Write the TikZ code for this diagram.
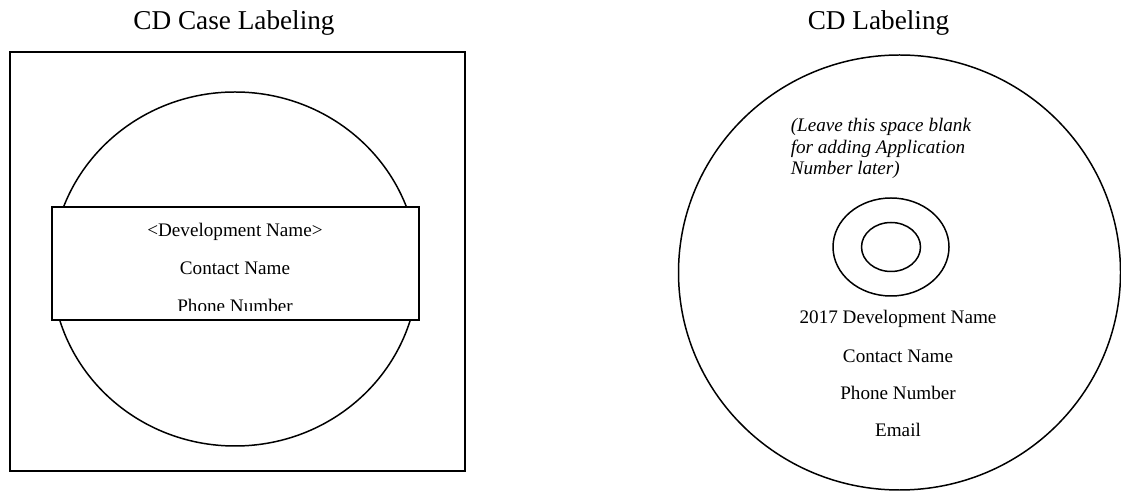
\documentclass[tikz,border=0pt]{standalone}
\usepackage{fontspec}
\setmainfont{Liberation Serif}
\usetikzlibrary{positioning}

\begin{document}
\begin{tikzpicture}[x=0.02cm, y=-0.02cm, line width=0.85pt,
    title/.style={anchor=base, inner sep=0pt, font=\fontsize{15.5}{18}\selectfont},
    info/.style={anchor=base, inner sep=0pt, font=\fontsize{10.9}{13}\selectfont},
    note/.style={anchor=base west, inner sep=0pt, font=\fontsize{10.9}{13}\selectfont\itshape}]
    \useasboundingbox (0,0) rectangle (1121,492);

    % case
    \coordinate (CC) at (235,269);
    \node[title] (casetitle) at (234,30) {CD Case Labeling};
    \draw (10,52) rectangle (465,471);
    \draw (CC) ellipse [x radius=183, y radius=177];
    \draw[fill=white] (52,207) rectangle (419,320);

    \node[info] (casename) at (235,236.7) {<Development Name>};
    \node[info] (casecontact) at (235,275) {Contact Name};
    \begin{scope}
        \clip (52,207) rectangle (419,311);
        \node[info] (casephone) at (235,313) {Phone Number};
    \end{scope}

    % disc
    \coordinate (DC) at (899.5,272.5);
    \coordinate (H) at (891,247);
    \node[title] (disctitle) at (878.5,30) {CD Labeling};
    \draw (DC) ellipse [x radius=221, y radius=217.5];
    \draw (H) ellipse [x radius=58, y radius=49];
    \draw (H) ellipse [x radius=29.5, y radius=24.5];

    \node[note] (blank1) at (790,131.7) {(Leave this space blank};
    \node[note] (blank2) at (790,153.3) {for adding Application};
    \node[note] (blank3) at (790,175) {Number later)};

    \node[info] (discname) at (898,324) {2017 Development Name};
    \node[info] (disccontact) at (898,362.3) {Contact Name};
    \node[info] (discphone) at (898,400) {Phone Number};
    \node[info] (discmail) at (898,436.7) {Email};
\end{tikzpicture}
\end{document}
